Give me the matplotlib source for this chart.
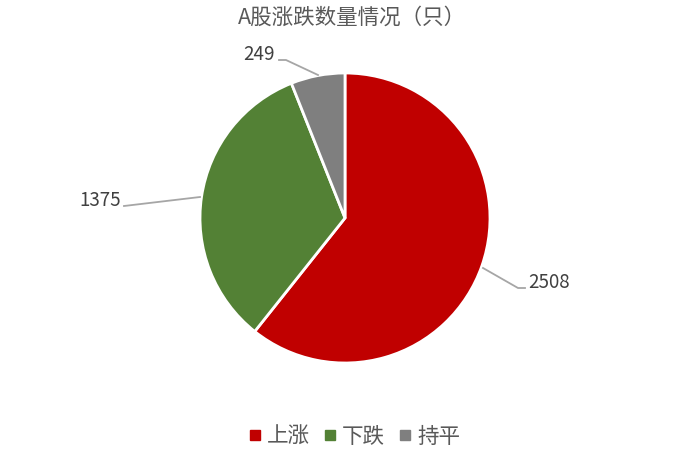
import matplotlib.pyplot as plt
from matplotlib.lines import Line2D

plt.rcParams['font.family'] = ['Noto Sans CJK SC', 'DejaVu Sans']

# data
labels = ['上涨', '下跌', '持平']
counts = [2508, 1375, 249]
colors = ['#C00000', '#538135', '#7F7F7F']
title = 'A股涨跌数量情况（只）'

fig = plt.figure(figsize=(6.93, 4.55), dpi=100)
W, H = 693, 455
cx, cy, r = 345, 218, 145
ax = fig.add_axes([(cx - r) / W, (H - cy - r) / H, 2 * r / W, 2 * r / H])

wedges, _ = ax.pie(counts, colors=colors, startangle=90, counterclock=False,
                   radius=1, wedgeprops=dict(edgecolor='white', linewidth=2))
ax.set_xlim(-1, 1)
ax.set_ylim(-1, 1)
ax.set_aspect('equal')
ax.axis('off')

# leader lines + labels (pixel positions)
def px(x, y):
    return ((x - cx) / r, (cy - y) / r)

lc = '#A6A6A6'
leaders = [
    [(483, 268), (518, 288), (525, 288)],
    [(200, 197), (124, 206), (124, 206)],
    [(318, 75), (286, 60), (279, 60)],
]
text_pos = [((528, 283), 'left'), ((121, 200), 'right'), ((275, 54), 'right')]
for pts, (tp, ha), n in zip(leaders, text_pos, counts):
    xs, ys = zip(*[px(*p) for p in pts])
    ax.plot(xs, ys, color=lc, lw=1.3, clip_on=False)
    ax.text(*px(*tp), str(n), ha=ha, va='center', fontsize=13.5,
            color='#404040', clip_on=False)

fig.text(352 / W, 1 - 18 / H, title, ha='center', va='center',
         fontsize=15.5, color='#595959')

handles = [Line2D([], [], marker='s', linestyle='', color=c, markersize=6.5)
           for c in colors]
fig.legend(handles, labels, loc='center', bbox_to_anchor=(352 / W, 1 - 437 / H),
           ncol=3, frameon=False, fontsize=15.5, labelcolor='#595959',
           handletextpad=0.05, columnspacing=0.45, handlelength=1.0)

fig.savefig('out.png', dpi=100, facecolor='white')
